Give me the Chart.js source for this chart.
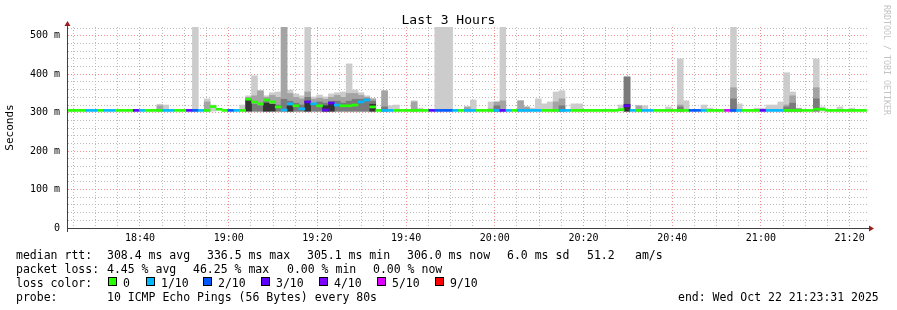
<!DOCTYPE html>
<html>
<head>
<meta charset="utf-8">
<script src="https://cdn.jsdelivr.net/npm/chart.js@4.4.1/dist/chart.umd.min.js"></script>
<style>
  html, body { margin: 0; padding: 0; background: #fff; }
  #bungkus { position: relative; width: 897px; height: 310px; font-family: 'DejaVu Sans Mono', monospace; color: #000; }
  #bungkus canvas { position: absolute; left: 0; top: 0; }
  .teks { position: absolute; white-space: pre; font-size: 11.5px; line-height: 14px; }
  #judul { position: absolute; left: 0; top: 12px; width: 897px; text-align: center; font-size: 13px; line-height: 15px; }
  #cap { position: absolute; left: 882px; top: 5px; writing-mode: vertical-rl; font-size: 8.3px; line-height: 10px; color: #c4c4c4; }
  .kotak { position: absolute; width: 7px; height: 7px; border: 1px solid #000; }
</style>
</head>
<body>
<div id="bungkus">
  <canvas id="grafikPing" width="897" height="310"></canvas>
  <div id="judul">Last 3 Hours</div>
  <div id="cap">RRDTOOL / TOBI OETIKER</div>
</div>
<script>
// Data smokeping 3 jam terakhir, satu langkah = 80 detik
const waktuMulai = 23 + 49 / 60;   // menit sesudah 18:00 (18:23:49)
const langkahMenit = 80 / 60;

// median rtt per langkah (ms)
const nilaiMedian = [
  306,306,306,306,306,306,306,306,306,306,306,306,306,306,306,
  306,306,306,306,306,306,306,306,306,316,309,306,306,306,306,
  335,328,323,333,328,315,307,323,318,310,328,323,318,307,325,
  320,318,318,320,328,333,315,306,306,306,306,306,306,306,306,
  306,306,306,306,306,306,306,306,306,306,306,306,306,306,306,
  306,306,306,306,306,306,306,306,306,306,306,306,306,306,306,
  306,306,306,308,318,306,306,306,306,306,306,306,306,306,306,
  306,306,306,306,306,306,306,306,306,306,306,306,306,306,306,
  306,306,306,306,306,306,309,309,306,306,306,306,306,306,306
];

// jumlah paket hilang dari 10
const jumlahHilang = [
  0,0,0,1,1,0,1,1,0,0,0,3,1,0,0,
  0,1,1,0,0,3,2,1,0,0,0,0,2,1,0,
  0,0,0,0,0,0,1,1,0,1,3,1,0,3,3,
  1,0,0,0,1,1,0,0,1,1,0,0,0,0,0,
  0,3,2,2,2,1,0,1,1,0,0,0,1,3,1,
  0,1,1,1,1,0,0,0,1,1,0,0,0,0,0,
  0,0,0,0,3,1,0,1,1,0,0,0,0,0,0,
  2,2,1,0,0,0,5,2,1,0,0,0,3,1,1,
  1,0,0,0,0,0,0,0,0,0,0,0,0,0,0
];

// asap: batas atas tiap lapisan (0 = tidak ada)
const asapMaks = [
  0,0,0,0,0,0,0,0,0,0,0,0,0,0,0,
  322,320,0,0,0,0,523,0,336,320,0,0,0,0,320,
  344,396,357,344,352,354,523,359,349,344,523,341,346,341,349,
  352,354,427,359,352,344,336,0,357,318,320,0,0,331,312,
  0,0,523,523,523,0,0,315,333,0,0,328,328,523,0,
  0,331,315,312,336,323,328,354,357,0,323,323,0,0,0,
  0,0,0,320,393,0,318,318,0,0,0,315,0,440,331,
  0,0,320,312,0,0,0,523,323,0,0,312,312,320,320,
  328,404,354,312,0,0,440,315,0,0,315,0,312,0,0
];
const asapTengah = [
  0,0,0,0,0,0,0,0,0,0,0,0,0,0,0,
  318,0,0,0,0,0,0,0,328,0,0,0,0,0,0,
  340,344,357,340,345,340,523,350,340,336,354,335,338,335,340,
  345,340,350,350,345,340,336,0,357,0,0,0,0,328,0,
  0,0,0,0,0,0,0,315,0,0,0,310,328,331,0,
  0,331,315,0,0,0,0,328,336,0,0,0,0,0,0,
  0,0,0,0,393,0,318,0,0,0,0,0,0,320,0,
  0,0,0,0,0,0,0,365,0,0,0,0,0,0,0,
  0,320,344,0,0,0,365,0,0,0,0,0,0,0,0
];
const asapGelap = [
  0,0,0,0,0,0,0,0,0,0,0,0,0,0,0,
  0,0,0,0,0,0,0,0,0,0,0,0,0,0,0,
  0,322,318,335,0,320,335,330,325,320,340,320,328,325,330,
  330,325,330,335,335,336,330,0,315,0,0,0,0,0,0,
  0,0,0,0,0,0,0,0,0,0,0,0,318,0,0,
  0,0,0,0,0,0,0,0,318,0,0,0,0,0,0,
  0,0,0,0,393,0,0,0,0,0,0,0,0,315,0,
  0,0,0,0,0,0,0,336,0,0,0,0,0,0,0,
  0,315,325,310,0,0,336,0,0,0,0,0,0,0,0
];
const asapHitam = [
  0,0,0,0,0,0,0,0,0,0,0,0,0,0,0,
  0,0,0,0,0,0,0,0,0,0,0,0,0,0,0,
  335,0,0,325,322,0,0,318,0,0,330,0,0,318,322,
  0,0,0,0,0,0,322,0,0,0,0,0,0,0,0,
  0,0,0,0,0,0,0,0,0,0,0,0,0,0,0,
  0,0,0,0,0,0,0,0,0,0,0,0,0,0,0,
  0,0,0,0,322,0,0,0,0,0,0,0,0,0,0,
  0,0,0,0,0,0,0,0,0,0,0,0,0,0,0,
  0,0,0,0,0,0,0,0,0,0,0,0,0,0,0
];
const dasarAsap = 304;

// warna kehilangan paket (indeks = jumlah hilang)
const warnaHilang = ['#26ff00','#00b8ff','#0059ff','#5e00ff','#7e00ff','#dd00ff','#dd00ff','#dd00ff','#dd00ff','#ff0000','#ff0000'];
const labelLegenda = ['0', '1/10', '2/10', '3/10', '4/10', '5/10', '9/10'];
const warnaLegenda = ['#26ff00','#00b8ff','#0059ff','#5e00ff','#7e00ff','#dd00ff','#ff0000'];

// baris keterangan di bawah grafik
const barisMedian = [['median rtt:', 16], ['308.4 ms avg', 107], ['336.5 ms max', 207], ['305.1 ms min', 307], ['306.0 ms now', 407], ['6.0 ms sd', 507], ['51.2', 587], ['am/s', 635]];
const barisHilang = [['packet loss:', 16], ['4.45 % avg', 107], ['46.25 % max', 193], ['0.00 % min', 287], ['0.00 % now', 373]];
const barisProbe = [['probe:', 16], ['10 ICMP Echo Pings (56 Bytes) every 80s', 107], ['end: Wed Oct 22 21:23:31 2025', 678]];

(function () {
  const FONT = "'DejaVu Sans Mono', monospace";
  const bungkus = document.getElementById('bungkus');

  function tulis(teks, x, y) {
    const el = document.createElement('div');
    el.className = 'teks';
    el.textContent = teks;
    el.style.left = x + 'px';
    el.style.top = y + 'px';
    bungkus.appendChild(el);
  }

  barisMedian.forEach(b => tulis(b[0], b[1], 248));
  barisHilang.forEach(b => tulis(b[0], b[1], 262));
  tulis('loss color:', 16, 276);
  const posKotak = [108, 146, 203, 261, 319, 377, 435];
  labelLegenda.forEach((lbl, i) => {
    const k = document.createElement('div');
    k.className = 'kotak';
    k.style.left = posKotak[i] + 'px';
    k.style.top = '277px';
    k.style.background = warnaLegenda[i];
    bungkus.appendChild(k);
    tulis(lbl, posKotak[i] + 15, 276);
  });
  barisProbe.forEach(b => tulis(b[0], b[1], 290));

  const tengah = i => waktuMulai + (i + 0.5) * langkahMenit;

  function formatJam(menit) {
    const j = 18 + Math.floor(menit / 60);
    const m = Math.round(menit % 60);
    return j + ':' + String(m).padStart(2, '0');
  }

  // satu lapisan asap sebagai batang mengambang
  function lapisan(nilai, warna, urutan) {
    return {
      data: nilai.map((v, i) => (v ? { x: tengah(i), y: [dasarAsap, v] } : null)).filter(Boolean),
      backgroundColor: warna,
      order: urutan,
      grouped: false,
      barPercentage: 1,
      categoryPercentage: 1,
      borderWidth: 0
    };
  }

  const pluginSumbu = {
    id: 'sumbu',
    afterDraw(chart) {
      const { ctx, chartArea: a } = chart;
      ctx.save();
      ctx.strokeStyle = '#404040';
      ctx.lineWidth = 1;
      ctx.beginPath();
      ctx.moveTo(a.left + 0.5, a.bottom + 4);
      ctx.lineTo(a.left + 0.5, a.top - 3);
      ctx.moveTo(a.left, a.bottom + 0.5);
      ctx.lineTo(a.right + 1, a.bottom + 0.5);
      ctx.stroke();
      ctx.fillStyle = '#9b1c1c';
      ctx.beginPath();
      ctx.moveTo(a.left - 2.5, a.top - 1);
      ctx.lineTo(a.left + 3.5, a.top - 1);
      ctx.lineTo(a.left + 0.5, a.top - 6);
      ctx.fill();
      ctx.beginPath();
      ctx.moveTo(a.right + 1, a.bottom - 2.5);
      ctx.lineTo(a.right + 1, a.bottom + 3.5);
      ctx.lineTo(a.right + 6, a.bottom + 0.5);
      ctx.fill();
      ctx.restore();
    }
  };

  const merah = 'rgba(240, 110, 110, 0.75)';
  const abu = 'rgba(175, 175, 175, 0.85)';

  // eslint-disable-next-line no-undef
  new Chart(document.getElementById('grafikPing'), {
    type: 'bar',
    data: {
      datasets: [
        {
          data: nilaiMedian.map((m, i) => ({ x: tengah(i), y: [m - 2.6, m + 2.6] })),
          backgroundColor: jumlahHilang.map(n => warnaHilang[n]),
          order: 1, grouped: false, barPercentage: 1, categoryPercentage: 1, borderWidth: 0
        },
        lapisan(asapHitam, '#333333', 2),
        lapisan(asapGelap, '#7a7a7a', 3),
        lapisan(asapTengah, '#a4a4a4', 4),
        lapisan(asapMaks, '#cccccc', 5)
      ]
    },
    options: {
      responsive: false,
      animation: false,
      layout: { padding: { top: 27, right: 29, left: 0, bottom: 0 } },
      plugins: { legend: { display: false }, tooltip: { enabled: false }, title: { display: false } },
      scales: {
        x: {
          type: 'linear',
          min: 23.54,
          max: 204.15,
          offset: false,
          grid: {
            offset: false,
            drawTicks: false,
            color: c => (c.tick && Math.abs(c.tick.value % 20) < 1e-6 ? merah : abu)
          },
          border: { color: '#404040', dash: [1, 2] },
          ticks: {
            stepSize: 5,
            includeBounds: false,
            autoSkip: false,
            maxRotation: 0,
            minRotation: 0,
            padding: 4,
            color: '#000',
            font: { family: FONT, size: 10 },
            callback: v => (Math.abs(v % 20) < 1e-6 ? formatJam(v) : '')
          },
          afterFit(s) { s.height = 82; s.paddingLeft = 0; s.paddingRight = 0; }
        },
        y: {
          min: 0,
          max: 523,
          grid: {
            drawTicks: false,
            color: c => (c.tick && c.tick.value % 100 === 0 ? merah : abu)
          },
          border: { color: '#404040', dash: [1, 2] },
          ticks: {
            stepSize: 20,
            includeBounds: false,
            autoSkip: false,
            padding: 7,
            color: '#000',
            font: { family: FONT, size: 10 },
            callback: v => (v % 100 === 0 ? (v === 0 ? '0' : v + ' m') : '')
          },
          title: { display: true, text: 'Seconds', color: '#000', font: { family: FONT, size: 11 }, padding: { top: 4, bottom: 0 } },
          afterFit(s) { s.width = 67; s.paddingTop = 0; s.paddingBottom = 0; }
        }
      }
    },
    plugins: [pluginSumbu]
  });
})();
</script>
</body>
</html>
